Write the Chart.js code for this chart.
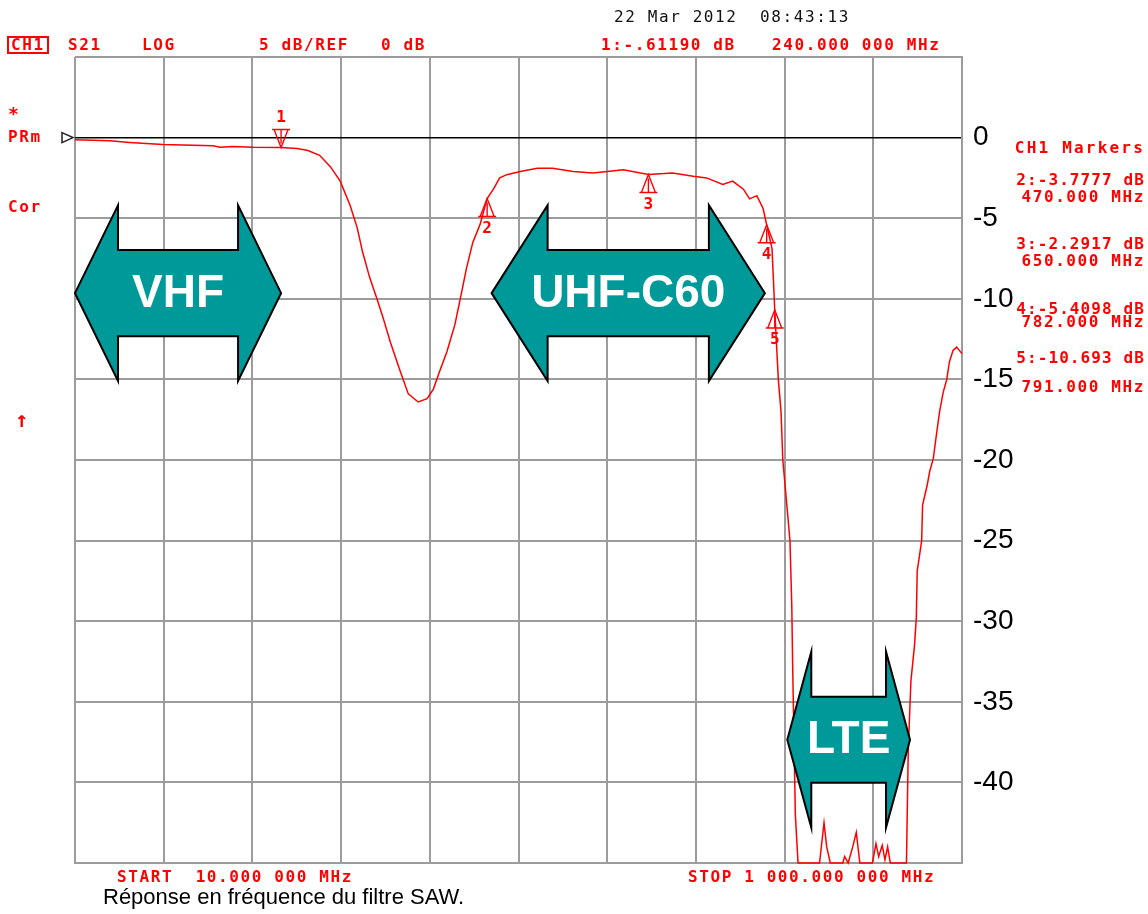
<!DOCTYPE html>
<html>
<head>
<meta charset="utf-8">
<title>Réponse en fréquence du filtre SAW</title>
<script src="https://cdn.jsdelivr.net/npm/chart.js@4.4.0/dist/chart.umd.min.js"></script>
<style>
  body { margin: 0; background: #fff; }
  #wrap { position: relative; width: 1148px; height: 914px; }
  #wrap canvas { position: absolute; left: 0; top: 0; }
  .vna {
    position: absolute;
    font-family: "DejaVu Sans Mono", monospace;
    font-size: 16px;
    font-weight: bold;
    line-height: 16px;
    letter-spacing: 1.6px;
    color: #ff0000;
    white-space: pre;
  }
  .dark { color: #111; font-weight: normal; }
  .boxed { border: 2px solid #ff0000; padding: 0 2px; line-height: 14px; }
  .caption {
    position: absolute;
    font-family: "Liberation Sans", Arial, sans-serif;
    font-size: 22px;
    line-height: 22px;
    color: #000;
    white-space: pre;
  }
  .readout { right: 3px; text-align: right; }
  .readout.title { letter-spacing: 2.2px; }
  .readout.level { letter-spacing: 1.1px; }
</style>
</head>
<body>
<div id="wrap">
  <canvas id="saw-chart"></canvas>

  <div class="vna dark" style="left:614px; top:9px;">22 Mar 2012  08:43:13</div>
  <div class="vna boxed" style="left:7px; top:36px;">CH1</div>
  <div class="vna" style="left:68px; top:37px;">S21</div>
  <div class="vna" style="left:142px; top:37px;">LOG</div>
  <div class="vna" style="left:259px; top:37px;">5 dB/REF</div>
  <div class="vna" style="left:381px; top:37px;">0 dB</div>
  <div class="vna" style="left:601px; top:37px;">1:-.61190 dB</div>
  <div class="vna" style="left:772px; top:37px;">240.000 000 MHz</div>

  <div class="vna" style="left:8px; top:106px; font-size:18px;">*</div>
  <div class="vna" style="left:8px; top:129px;">PRm</div>
  <div class="vna" style="left:8px; top:199px;">Cor</div>
  <div class="vna" style="left:15px; top:409px; font-size:22px; line-height:22px;">↑</div>

  <div id="readouts"></div>

  <div class="vna" style="left:117px; top:869px;">START  10.000 000 MHz</div>
  <div class="vna" style="left:688px; top:869px;">STOP 1 000.000 000 MHz</div>
  <div class="caption" style="left:103px; top:886px;">Réponse en fréquence du filtre SAW.</div>
</div>

<script>
// measured trace, S21 in dB versus frequency in MHz
const freqMHz = [10, 49, 71, 108, 164, 172, 186, 209, 240, 258,
  270, 283, 295, 306, 317, 325, 331, 339, 347, 354,
  362, 373, 382, 393, 403, 410, 417, 425, 434, 440,
  447, 454, 462, 470, 477, 484, 492, 507, 526, 543,
  566, 588, 604, 622, 650, 677, 700, 715, 733, 744,
  756, 763, 771, 778, 782, 788, 791, 795, 798, 800,
  804, 808, 810, 811, 814, 817, 841, 846, 849, 853,
  867, 869, 873, 878, 882, 886, 900, 904, 907, 911,
  914, 917, 920, 938, 940, 943, 947, 949, 950, 955,
  956, 961, 964, 968, 972, 975, 979, 983, 986, 990,
  994, 997, 1000];
const s21dB = [-0.13, -0.2, -0.3, -0.43, -0.5, -0.6, -0.55, -0.6, -0.61, -0.68,
  -0.8, -1.1, -1.8, -2.7, -4.2, -5.6, -7.1, -8.7, -10, -11.2,
  -12.7, -14.5, -15.9, -16.4, -16.2, -15.6, -14.5, -13.3, -11.6, -10,
  -8.1, -6.5, -5.4, -3.78, -3.2, -2.5, -2.3, -2.1, -1.9, -1.9,
  -2.1, -2.2, -2.1, -2.0, -2.29, -2.2, -2.4, -2.5, -2.9, -2.7,
  -3.2, -3.8, -3.6, -4.4, -5.41, -6.9, -10.69, -15, -17, -20,
  -22.5, -25, -29, -32.8, -42, -45, -45, -42.5, -44, -45,
  -45, -44.6, -45, -44, -43.1, -45, -45, -43.8, -44.6, -43.9,
  -44.8, -44, -45, -45, -38, -33.7, -31.5, -29.8, -26.9, -25,
  -22.8, -21.6, -20.7, -19.9, -18.2, -17, -15.8, -15, -13.9, -13.2,
  -13, -13.2, -13.4];

// markers 1..5
const markerFreqMHz = [240, 470, 650, 782, 791];
const markerDb = [-0.6119, -3.7777, -2.2917, -5.4098, -10.693];
const markerText = ["-.61190", "-3.7777", "-2.2917", "-5.4098", "-10.693"];

// frequency bands shown as arrows
const bandNames = ["VHF", "UHF-C60", "LTE"];
const bandFromMHz = [10, 475, 805];
const bandToMHz = [240, 780, 942];

// axis divisions
const xGridMHz = [10, 109, 208, 307, 406, 505, 604, 703, 802, 901, 1000];
const yMinDb = -45;
const yMaxDb = 5;
const yStepDb = 5;

// readout block on the right (markers 2..5)
const readoutTops = [[172, 189], [236, 253], [301, 314], [350, 379]];
let html = '<div class="vna readout title" style="top:140px;">CH1 Markers</div>';
for (let i = 1; i < markerFreqMHz.length; i++) {
  const t = readoutTops[i - 1];
  html += '<div class="vna readout level" style="top:' + t[0] + 'px;">' + (i + 1) + ':' + markerText[i] + ' dB</div>';
  html += '<div class="vna readout" style="top:' + t[1] + 'px;">' + markerFreqMHz[i].toFixed(3) + ' MHz</div>';
}
document.getElementById("readouts").innerHTML = html;

// vertical placement of the band arrows (dB) and head length (px)
const bandStyle = [
  { top: -4.2, bottom: -15.1, head: 43 },
  { top: -4.2, bottom: -15.1, head: 56 },
  { top: -31.9, bottom: -42.8, head: 24 }
];

const overlay = {
  id: "vnaOverlay",
  afterDatasetsDraw(chart) {
    const ctx = chart.ctx;
    const xs = chart.scales.x;
    const ys = chart.scales.y;
    const area = chart.chartArea;
    ctx.save();

    // reference pointer on the left
    const y0 = ys.getPixelForValue(0);
    ctx.strokeStyle = "#222";
    ctx.lineWidth = 1.5;
    ctx.beginPath();
    ctx.moveTo(area.left - 13, y0 - 5);
    ctx.lineTo(area.left - 2, y0);
    ctx.lineTo(area.left - 13, y0 + 5);
    ctx.closePath();
    ctx.stroke();

    // marker triangles
    ctx.strokeStyle = "#ff0000";
    ctx.fillStyle = "#ff0000";
    ctx.lineWidth = 1.4;
    ctx.font = 'bold 16px "DejaVu Sans Mono", monospace';
    ctx.textAlign = "center";
    ctx.textBaseline = "middle";
    markerFreqMHz.forEach((f, i) => {
      const px = xs.getPixelForValue(f);
      const py = ys.getPixelForValue(markerDb[i]);
      const dir = i === 0 ? -1 : 1;
      const by = py + dir * 18;
      ctx.beginPath();
      ctx.moveTo(px, py);
      ctx.lineTo(px - 7, by);
      ctx.lineTo(px + 7, by);
      ctx.closePath();
      ctx.moveTo(px - 9, by);
      ctx.lineTo(px + 9, by);
      ctx.moveTo(px, py + dir * 4);
      ctx.lineTo(px, by);
      ctx.stroke();
      ctx.fillText(String(i + 1), px, py + dir * 30);
    });

    // band arrows
    bandNames.forEach((name, i) => {
      const s = bandStyle[i];
      const x0 = xs.getPixelForValue(bandFromMHz[i]);
      const x1 = xs.getPixelForValue(bandToMHz[i]);
      const yt = ys.getPixelForValue(s.top);
      const yb = ys.getPixelForValue(s.bottom);
      const ym = (yt + yb) / 2;
      const inset = (yb - yt) * 0.255;
      const h = s.head;
      ctx.beginPath();
      ctx.moveTo(x0, ym);
      ctx.lineTo(x0 + h, yt);
      ctx.lineTo(x0 + h, yt + inset);
      ctx.lineTo(x1 - h, yt + inset);
      ctx.lineTo(x1 - h, yt);
      ctx.lineTo(x1, ym);
      ctx.lineTo(x1 - h, yb);
      ctx.lineTo(x1 - h, yb - inset);
      ctx.lineTo(x0 + h, yb - inset);
      ctx.lineTo(x0 + h, yb);
      ctx.closePath();
      ctx.fillStyle = "#009999";
      ctx.fill();
      ctx.strokeStyle = "#000";
      ctx.lineWidth = 2;
      ctx.stroke();
      ctx.fillStyle = "#fff";
      ctx.font = 'bold 46px "Liberation Sans", Arial, sans-serif';
      ctx.fillText(name, (x0 + x1) / 2, ym + 1);
    });

    ctx.restore();
  }
};

const points = freqMHz.map((f, i) => ({ x: f, y: s21dB[i] }));

new Chart(document.getElementById("saw-chart"), {
  type: "line",
  data: {
    datasets: [{
      label: "S21",
      data: points,
      borderColor: "#ff0000",
      borderWidth: 1.5,
      pointRadius: 0,
      tension: 0,
      fill: false,
      clip: 4
    }]
  },
  options: {
    responsive: true,
    maintainAspectRatio: false,
    animation: false,
    events: [],
    layout: { padding: { left: 75, top: 57, right: 0, bottom: 51 } },
    plugins: {
      legend: { display: false },
      tooltip: { enabled: false },
      title: { display: false }
    },
    scales: {
      x: {
        type: "linear",
        min: freqMHz[0],
        max: freqMHz[freqMHz.length - 1],
        afterBuildTicks: (scale) => { scale.ticks = xGridMHz.map(v => ({ value: v })); },
        ticks: { display: false },
        grid: { color: "#9c9c9c", lineWidth: 2, drawTicks: false },
        border: { color: "#9c9c9c", width: 2 }
      },
      y: {
        position: "right",
        min: yMinDb,
        max: yMaxDb,
        afterFit: (scale) => { scale.width = 186; },
        ticks: {
          stepSize: yStepDb,
          autoSkip: false,
          padding: 11,
          color: "#000",
          font: { family: '"Liberation Sans", Arial, sans-serif', size: 28 },
          callback: (v) => (v >= yMaxDb || v <= yMinDb) ? "" : String(v)
        },
        grid: {
          drawTicks: false,
          color: (c) => c.tick && c.tick.value === 0 ? "#000" : "#9c9c9c",
          lineWidth: (c) => c.tick && c.tick.value === 0 ? 1.5 : 2
        },
        border: { color: "#9c9c9c", width: 2 }
      }
    }
  },
  plugins: [overlay]
});
</script>
</body>
</html>
